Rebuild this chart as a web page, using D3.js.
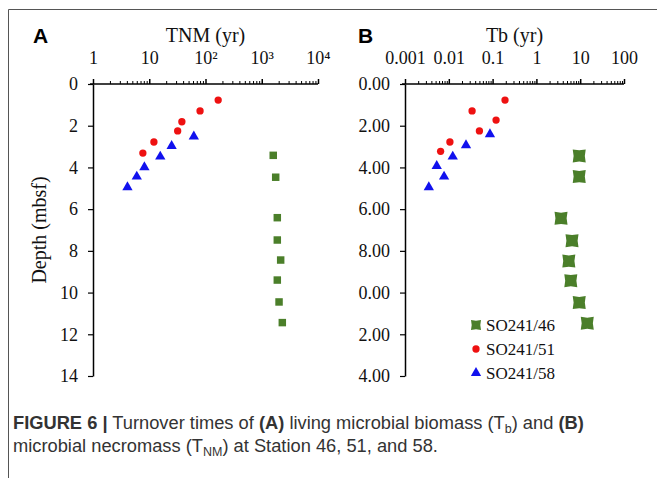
<!DOCTYPE html>
<html>
<head>
<meta charset="utf-8">
<script src="https://cdn.jsdelivr.net/npm/d3@7"></script>
<style>
  body { margin: 0; background: white; }
  svg { display: block; }
</style>
</head>
<body>
<svg id="chart" width="657" height="478"></svg>
<script>
// depth (mbsf) and turnover times
const depth46 = [3.42, 4.47, 6.41, 7.48, 8.44, 9.40, 10.45, 11.44];
const depth51 = [0.77, 1.29, 1.81, 2.25, 2.78, 3.31];
const depth58 = [2.52, 2.97, 3.48, 3.99, 4.44, 4.95];

// panel A: TNM (yr)
const tnm46 = [1600, 1770, 1890, 1890, 2170, 1890, 2030, 2320];
const tnm51 = [168, 80, 38, 32, 12.1, 7.7];
const tnm58 = [62, 25, 15.7, 8.2, 6.0, 4.1];

// panel B: Tb (yr)
const tbDepth51 = [0.77, 1.29, 1.73, 2.25, 2.78, 3.23];
const tbDepth58 = [2.41, 2.94, 3.48, 3.93, 4.44, 4.95];
const tbDepth46 = [3.45, 4.44, 6.44, 7.51, 8.49, 9.43, 10.48, 11.47];
const tb46 = [9.5, 9.5, 3.65, 6.5, 5.5, 6.1, 9.5, 14.5];
const tb51 = [0.192, 0.034, 0.12, 0.05, 0.0106, 0.0065];
const tb58 = [0.087, 0.0247, 0.0123, 0.0053, 0.0078, 0.0035];

// tick labels
const depthTicks = [0, 2, 4, 6, 8, 10, 12, 14];
const depthLabelsA = ["0", "2", "4", "6", "8", "10", "12", "14"];
const depthLabelsB = ["0.00", "2.00", "4.00", "6.00", "8.00", "0.00", "2.00", "4.00"];
const tnmDecades = [1, 10, 100, 1000, 10000];
const tnmLabels = ["1", "10", "10²", "10³", "10⁴"];
const tbDecades = [0.001, 0.01, 0.1, 1, 10, 100];
const tbLabels = ["0.001", "0.01", "0.1", "1", "10", "100"];

const stations = ["SO241/46", "SO241/51", "SO241/58"];
const colors = ["#4b7f2a", "#ee1111", "#1111ee"];

const svg = d3.select("#chart");
const serif = "'Liberation Serif', 'Times New Roman', serif";

// outer frame (only top and left are visible)
svg.append("path")
  .attr("d", "M 8.5,478 L 8.5,9.5 L 657,9.5")
  .attr("stroke", "#555")
  .attr("stroke-width", 1)
  .attr("fill", "none");

const yScale = d3.scaleLinear().domain([0, 14]).range([84, 376]);
const xA = d3.scaleLog().domain([1, 1e4]).range([93, 318]);
const xB = d3.scaleLog().domain([0.001, 100]).range([405, 624]);

// all log ticks 1..9 per decade
function logTicks(decades) {
  const out = [];
  for (let i = 0; i < decades.length - 1; i++) {
    for (let k = 1; k < 10; k++) out.push(decades[i] * k);
  }
  out.push(decades[decades.length - 1]);
  return out;
}

function drawPanel(x, decades, decLabels, depthLabels, axisLeftX, title, letter, letterX) {
  // top axis
  const top = svg.append("g").attr("transform", `translate(0,${yScale(0)})`);
  top.call(d3.axisTop(x)
      .tickValues(logTicks(decades))
      .tickSizeInner(3)
      .tickSizeOuter(0)
      .tickPadding(17)
      .tickFormat(d => {
        const i = decades.findIndex(v => Math.abs(v - d) / v < 1e-6);
        return i >= 0 ? decLabels[i] : "";
      }));
  top.selectAll(".tick").filter(d => decades.some(v => Math.abs(v - d) / v < 1e-6))
    .select("line").attr("y2", -5).attr("stroke-width", 1.5);
  top.select(".domain").attr("stroke-width", 1.5).attr("d", `M${x.range()[0] - 3},0 H${x.range()[1]}`);
  top.selectAll("text").attr("font-family", serif).attr("font-size", "18px").attr("fill", "#111");

  // left axis
  const left = svg.append("g").attr("transform", `translate(${axisLeftX},0)`);
  left.call(d3.axisLeft(yScale)
      .tickValues(depthTicks)
      .tickSizeInner(5)
      .tickSizeOuter(0)
      .tickPadding(10)
      .tickFormat((d, i) => depthLabels[i]));
  left.select(".domain").attr("stroke-width", 1.5);
  left.selectAll(".tick line").attr("stroke-width", 1.2);
  left.selectAll("text").attr("font-family", serif).attr("font-size", "18px").attr("fill", "#111");

  // axis title
  svg.append("text")
    .attr("x", (x.range()[0] + x.range()[1]) / 2)
    .attr("y", 42)
    .attr("text-anchor", "middle")
    .attr("font-family", serif)
    .attr("font-size", "20px")
    .attr("fill", "#111")
    .text(title);

  // panel letter
  svg.append("text")
    .attr("x", letterX)
    .attr("y", 43)
    .attr("font-family", "'Liberation Sans', Arial, sans-serif")
    .attr("font-weight", "bold")
    .attr("font-size", "21px")
    .text(letter);
}

drawPanel(xA, tnmDecades, tnmLabels, depthLabelsA, 93, "TNM (yr)", "A", 33);
drawPanel(xB, tbDecades, tbLabels, depthLabelsB, 405, "Tb (yr)", "B", 358);

// depth axis title
svg.append("text")
  .attr("transform", "translate(46,230) rotate(-90)")
  .attr("text-anchor", "middle")
  .attr("font-family", serif)
  .attr("font-size", "20px")
  .attr("fill", "#111")
  .text("Depth (mbsf)");

// marker shapes
const circlePath = d3.symbol(d3.symbolCircle, 42)();
const trianglePath = d3.symbol(d3.symbolTriangle, 46)();
const squarePath = d3.symbol(d3.symbolSquare, 56)();
// square with slightly pinched sides, like the panel B markers
const pinchedSquare = "M-6.5,-6.5 L0,-5.6 L6.5,-6.5 L5.6,0 L6.5,6.5 L0,5.6 L-6.5,6.5 L-5.6,0 Z";
const pinchedSmall = "M-5,-5 L0,-4.3 L5,-5 L4.3,0 L5,5 L0,4.3 L-5,5 L-4.3,0 Z";

function drawPoints(xs, ds, x, path, color) {
  svg.append("g").selectAll("path")
    .data(xs)
    .enter()
    .append("path")
    .attr("transform", (d, i) => `translate(${x(d)},${yScale(ds[i])})`)
    .attr("d", path)
    .attr("fill", color);
}

drawPoints(tnm46, depth46, xA, squarePath, colors[0]);
drawPoints(tnm51, depth51, xA, circlePath, colors[1]);
drawPoints(tnm58, depth58, xA, trianglePath, colors[2]);

drawPoints(tb46, tbDepth46, xB, pinchedSquare, colors[0]);
drawPoints(tb51, tbDepth51, xB, circlePath, colors[1]);
drawPoints(tb58, tbDepth58, xB, trianglePath, colors[2]);

// legend
const legendShapes = [pinchedSmall, circlePath, trianglePath];
const legend = svg.append("g");
stations.forEach((s, i) => {
  const cy = 325 + i * 24;
  legend.append("path")
    .attr("transform", `translate(476,${cy})`)
    .attr("d", legendShapes[i])
    .attr("fill", colors[i]);
  legend.append("text")
    .attr("x", 486)
    .attr("y", cy + 6)
    .attr("font-family", serif)
    .attr("font-size", "17px")
    .attr("fill", "#111")
    .text(s);
});

// caption
const sans = "'Liberation Sans', Arial, sans-serif";
const cap = svg.append("g")
  .attr("font-family", sans)
  .attr("font-size", "18.3px")
  .attr("fill", "#333");

const line1 = cap.append("text").attr("x", 13).attr("y", 429);
line1.append("tspan").attr("font-weight", "bold").text("FIGURE 6 |");
line1.append("tspan").text(" Turnover times of ");
line1.append("tspan").attr("font-weight", "bold").text("(A)");
line1.append("tspan").text(" living microbial biomass (T");
line1.append("tspan").attr("font-size", "12.5px").attr("dy", 4).text("b");
line1.append("tspan").attr("dy", -4).text(") and ");
line1.append("tspan").attr("font-weight", "bold").text("(B)");

const line2 = cap.append("text").attr("x", 13).attr("y", 452);
line2.append("tspan").text("microbial necromass (T");
line2.append("tspan").attr("font-size", "12.5px").attr("dy", 4).text("NM");
line2.append("tspan").attr("dy", -4).text(") at Station 46, 51, and 58.");
</script>
</body>
</html>
